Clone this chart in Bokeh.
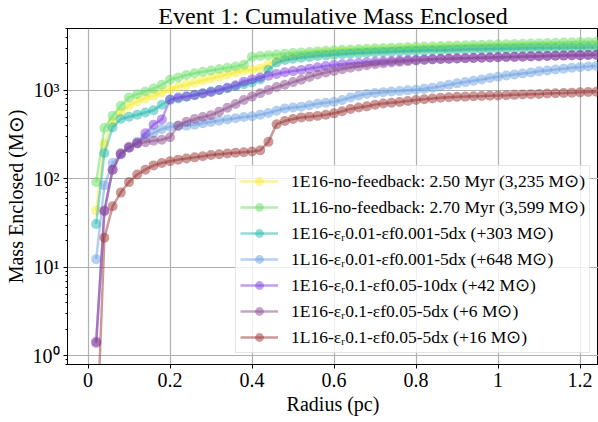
from bokeh.plotting import figure
from bokeh.models import Legend, LegendItem, CustomJSTickFormatter, LogTicker
from bokeh.embed import file_html
from bokeh.resources import INLINE

radius_pc = [0.02, 0.04, 0.06, 0.08, 0.10, 0.12, 0.14, 0.16, 0.18, 0.20,
             0.22, 0.24, 0.26, 0.28, 0.30, 0.32, 0.34, 0.36, 0.38, 0.40,
             0.42, 0.44, 0.46, 0.48, 0.50, 0.52, 0.54, 0.56, 0.58, 0.60,
             0.62, 0.64, 0.66, 0.68, 0.70, 0.72, 0.74, 0.76, 0.78, 0.80,
             0.82, 0.84, 0.86, 0.88, 0.90, 0.92, 0.94, 0.96, 0.98, 1.00,
             1.02, 1.04, 1.06, 1.08, 1.10, 1.12, 1.14, 1.16, 1.18, 1.20,
             1.22, 1.24]

mass_1E16_nofb = [44, 250, 435, 563, 670, 749, 811, 869, 946, 1031,
                  1097, 1156, 1228, 1290, 1360, 1430, 1510, 1590, 1680, 1720,
                  1770, 1950, 2200, 2340, 2430, 2500, 2560, 2610, 2660, 2700,
                  2740, 2770, 2800, 2830, 2860, 2880, 2910, 2930, 2950, 2970,
                  2990, 3010, 3030, 3040, 3060, 3070, 3090, 3100, 3110, 3130,
                  3140, 3150, 3160, 3170, 3180, 3190, 3200, 3210, 3215, 3225,
                  3230, 3235]

mass_1L16_nofb = [92, 375, 517, 670, 832, 906, 970, 1047, 1156, 1320,
                  1397, 1490, 1563, 1620, 1680, 1740, 1800, 1860, 1950, 2390,
                  2440, 2490, 2540, 2590, 2640, 2680, 2720, 2760, 2800, 2840,
                  2870, 2900, 2930, 2960, 2990, 3010, 3040, 3060, 3090, 3110,
                  3130, 3150, 3170, 3190, 3210, 3230, 3250, 3270, 3290, 3310,
                  3330, 3350, 3370, 3390, 3410, 3430, 3450, 3470, 3490, 3510,
                  3530, 3550]

mass_1E16_r001_f0001_5dx = [31, 196, 382, 474, 504, 530, 563, 598, 688, 780,
                            810, 850, 890, 930, 970, 1010, 1060, 1110, 1170, 1230,
                            1330, 1700, 2060, 2200, 2280, 2340, 2390, 2440, 2480, 2520,
                            2560, 2590, 2620, 2650, 2680, 2700, 2720, 2740, 2760, 2780,
                            2800, 2815, 2830, 2845, 2860, 2875, 2890, 2900, 2915, 2930,
                            2940, 2955, 2965, 2975, 2990, 3000, 3010, 3020, 3030, 3040,
                            3045, 3050]

mass_1L16_r001_f0001_5dx = [12.4, 85, 151, 190, 225, 262, 295, 330, 365, 388,
                            395, 400, 410, 425, 440, 455, 470, 485, 500, 510,
                            530, 555, 590, 625, 640, 655, 680, 705, 725, 745,
                            780, 830, 875, 910, 935, 955, 970, 985, 1000, 1015,
                            1040, 1070, 1110, 1160, 1200, 1240, 1285, 1330, 1380, 1425,
                            1470, 1510, 1550, 1590, 1640, 1680, 1720, 1760, 1800, 1830,
                            1860, 1890]

mass_1E16_r01_f005_10dx = [1.45, 44, 127, 190, 225, 252, 327, 410, 470, 790,
                           832, 853, 883, 920, 960, 1010, 1070, 1140, 1250, 1330,
                           1400, 1460, 1530, 1600, 1650, 1700, 1760, 1820, 1880, 1930,
                           1970, 2010, 2040, 2070, 2100, 2130, 2150, 2170, 2190, 2210,
                           2230, 2250, 2265, 2280, 2295, 2310, 2320, 2335, 2350, 2365,
                           2380, 2390, 2405, 2420, 2430, 2445, 2460, 2470, 2485, 2495,
                           2510, 2520]

mass_1E16_r01_f005_5dx = [1.4, 43, 127, 195, 230, 252, 259, 270, 277, 295,
                          400, 443, 474, 500, 525, 575, 635, 700, 780, 850,
                          930, 1010, 1090, 1160, 1240, 1320, 1420, 1510, 1590, 1660,
                          1730, 1800, 1860, 1920, 1970, 2020, 2060, 2100, 2140, 2180,
                          2210, 2240, 2260, 2280, 2295, 2310, 2325, 2340, 2355, 2370,
                          2385, 2395, 2410, 2425, 2435, 2450, 2465, 2475, 2490, 2500,
                          2515, 2525]

mass_1L16_r01_f005_5dx = [0.08, 21.6, 49, 70, 92, 112, 127, 142, 151, 158,
                          165, 170, 175, 180, 186, 190, 194, 197, 200, 204,
                          210, 262, 415, 450, 475, 495, 505, 515, 530, 550,
                          580, 615, 640, 660, 690, 710, 725, 740, 760, 780,
                          795, 810, 825, 835, 845, 850, 858, 863, 870, 875,
                          882, 890, 897, 905, 912, 920, 928, 935, 943, 950,
                          958, 965]

series_labels = [
    "1E16-no-feedback: 2.50 Myr (3,235 M\u2299)",
    "1L16-no-feedback: 2.70 Myr (3,599 M\u2299)",
    "1E16-\u03b5\u1d630.01-\u03b5f0.001-5dx (+303 M\u2299)",
    "1L16-\u03b5\u1d630.01-\u03b5f0.001-5dx (+648 M\u2299)",
    "1E16-\u03b5\u1d630.1-\u03b5f0.05-10dx (+42 M\u2299)",
    "1E16-\u03b5\u1d630.1-\u03b5f0.05-5dx (+6 M\u2299)",
    "1L16-\u03b5\u1d630.1-\u03b5f0.05-5dx (+16 M\u2299)",
]
series_values = [mass_1E16_nofb, mass_1L16_nofb, mass_1E16_r001_f0001_5dx,
                 mass_1L16_r001_f0001_5dx, mass_1E16_r01_f005_10dx,
                 mass_1E16_r01_f005_5dx, mass_1L16_r01_f005_5dx]
series_colors = ["#f5eb2b", "#66dd66", "#20b8ac", "#6ba0e0", "#8040e0", "#8b4b8b", "#993333"]

FONT = "Liberation Serif"

p = figure(width=598, height=422, x_range=(-0.05, 1.245), y_range=(0.8, 5000),
           y_axis_type="log", output_backend="svg", toolbar_location=None,
           min_border_left=67, min_border_right=0, min_border_top=27, min_border_bottom=58)

p.title.text = "Event 1: Cumulative Mass Enclosed"
p.title.text_font = FONT
p.title.text_font_size = "24px"
p.title.text_font_style = "normal"
p.title.text_color = "black"
p.title.align = "center"
p.title.standoff = 0
p.title.offset = 0

p.outline_line_color = "black"
p.outline_line_width = 1

for ax in (p.xaxis[0], p.yaxis[0]):
    ax.major_label_text_font = FONT
    ax.major_label_text_font_size = "20px"
    ax.major_label_text_color = "black"
    ax.axis_label_text_font = FONT
    ax.axis_label_text_font_size = "20px"
    ax.axis_label_text_font_style = "normal"
    ax.axis_label_text_color = "black"
    ax.axis_line_color = "black"
    ax.major_tick_line_color = "black"
    ax.major_tick_in = 0
    ax.major_tick_out = 4
    ax.minor_tick_in = 0
    ax.minor_tick_out = 2

p.xaxis.axis_label = "Radius (pc)"
p.xaxis.minor_tick_line_color = None
p.xaxis.major_label_standoff = 4
p.xaxis.axis_label_standoff = 3
p.xaxis.ticker = [0.0, 0.2, 0.4, 0.6, 0.8, 1.0, 1.2]

p.yaxis.axis_label = "Mass Enclosed (M\u2299)"
p.yaxis.ticker = LogTicker(num_minor_ticks=10)
p.yaxis.minor_tick_line_color = "black"
p.yaxis.major_label_standoff = 4
p.yaxis.axis_label_standoff = 3
p.yaxis.formatter = CustomJSTickFormatter(code="""
const e = Math.round(Math.log10(tick));
const sup = {"-":"\u207b","0":"\u2070","1":"\u00b9","2":"\u00b2","3":"\u00b3","4":"\u2074","5":"\u2075","6":"\u2076","7":"\u2077","8":"\u2078","9":"\u2079"};
return "10" + String(e).split("").map(c => sup[c]).join("");
""")

p.xgrid.grid_line_color = "#b0b0b0"
p.xgrid.grid_line_width = 1.2
p.ygrid.grid_line_color = "#b0b0b0"
p.ygrid.grid_line_width = 1.2

items = []
for lab, vals, col in zip(series_labels, series_values, series_colors):
    lr = p.line(radius_pc, vals, line_color=col, line_width=2.5, line_alpha=0.5)
    sr = p.scatter(radius_pc, vals, size=10, fill_color=col, fill_alpha=0.5, line_color=None)
    items.append(LegendItem(label=lab, renderers=[lr, sr]))

legend = Legend(items=items, location=(168, 11))
legend.label_text_font = FONT
legend.label_text_font_size = "17.5px"
legend.label_text_color = "black"
legend.glyph_width = 38
legend.glyph_height = 22
legend.label_height = 22
legend.spacing = 4
legend.padding = 4
legend.label_standoff = 13
legend.margin = 0
legend.border_line_color = "#cccccc"
legend.border_line_width = 1
legend.background_fill_alpha = 0.8
p.add_layout(legend)

open("out.html", "w").write(file_html(p, INLINE))
